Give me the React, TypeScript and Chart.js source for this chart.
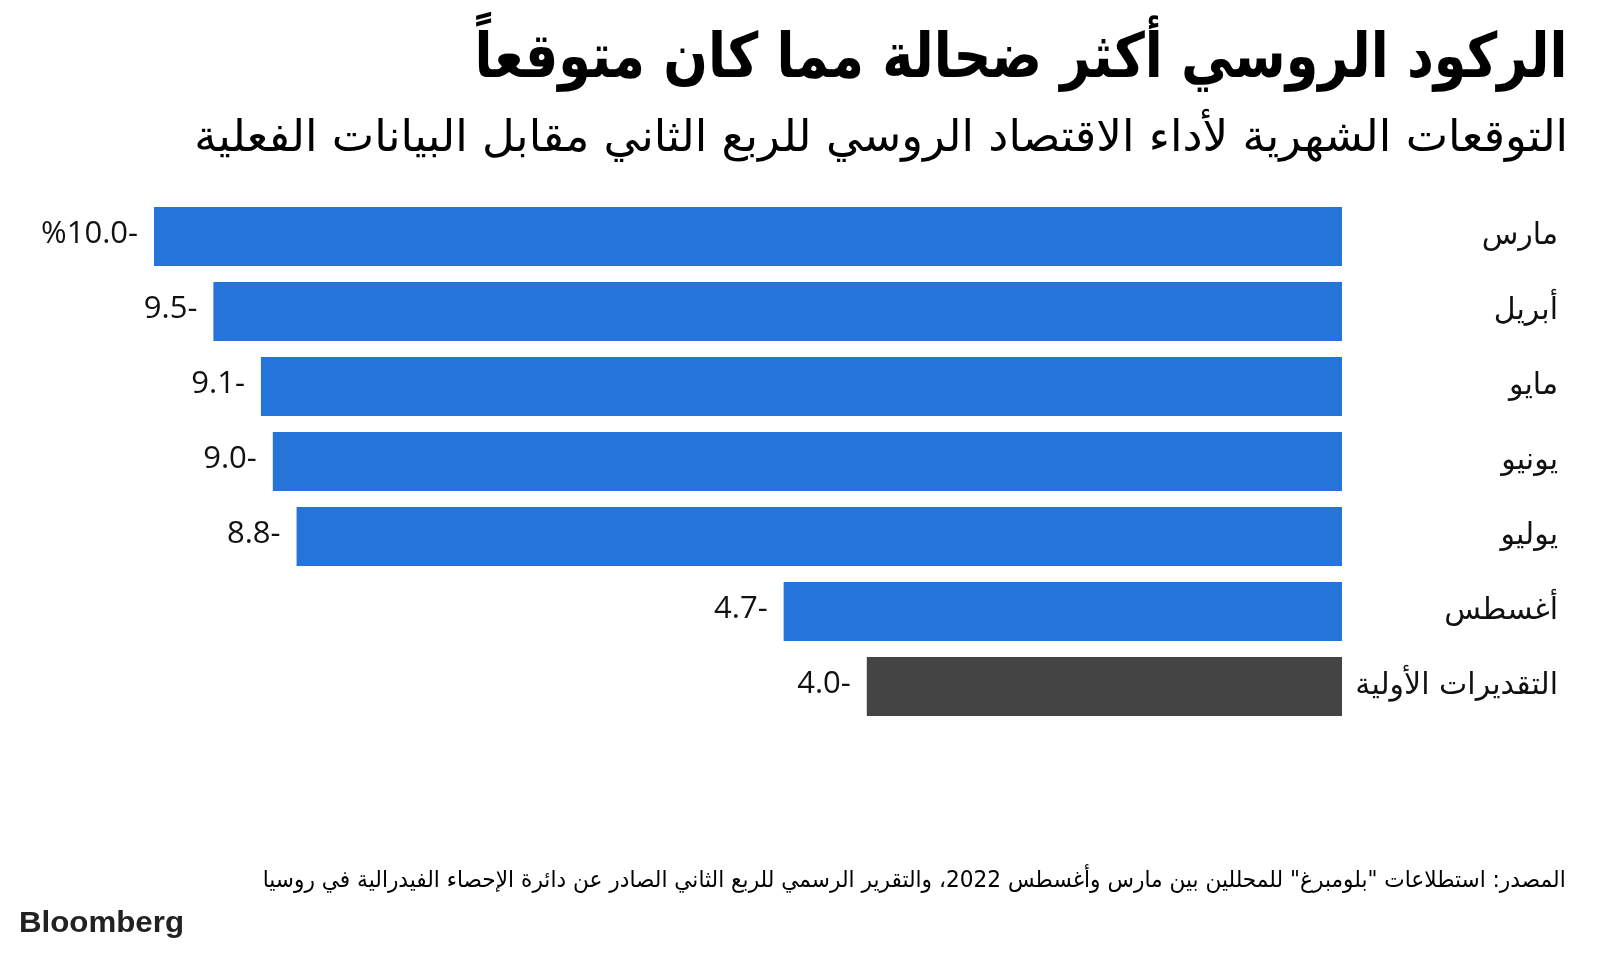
import React, { useEffect, useLayoutEffect, useRef } from "react";
import { Chart, registerables } from "chart.js";

Chart.register(...registerables);

// ---------- data ----------
const titleText = "الركود الروسي أكثر ضحالة مما كان متوقعاً";
const subtitleText = "التوقعات الشهرية لأداء الاقتصاد الروسي للربع الثاني مقابل البيانات الفعلية";
const sourceText =
  'المصدر: استطلاعات "بلومبرغ" للمحللين بين مارس وأغسطس 2022، والتقرير الرسمي للربع الثاني الصادر عن دائرة الإحصاء الفيدرالية في روسيا';
const brandText = "Bloomberg";

const categories = ["مارس", "أبريل", "مايو", "يونيو", "يوليو", "أغسطس", "التقديرات الأولية"];
const values = [-10.0, -9.5, -9.1, -9.0, -8.8, -4.7, -4.0];
const xMin = -10;
const xMax = 0;

// ---------- styles ----------
const BLUE = "#2474da";
const DARK = "#444444";
const ARABIC_FONT = "'DejaVu Sans', 'Noto Sans', sans-serif";
const NUM_FONT = "'Open Sans', 'DejaVu Sans', sans-serif";

function formatValue(v: number, i: number): string {
  // visual right-to-left rendering of e.g. "-10.0%"
  return (i === 0 ? "%" : "") + Math.abs(v).toFixed(1) + "-";
}

type FitProps = {
  text: string;
  font: string;
  target: number;
  top: number;
  right?: number;
  left?: number;
  color?: string;
  rtl?: boolean;
};

function FitText({ text, font, target, right, left, top, color = "#000", rtl = true }: FitProps) {
  const ref = useRef<HTMLSpanElement>(null);
  useLayoutEffect(() => {
    const fit = () => {
      const el = ref.current;
      if (!el) return;
      el.style.transform = "none";
      const w = el.getBoundingClientRect().width;
      if (w > 0) el.style.transform = `scaleX(${target / w})`;
    };
    fit();
    if ((document as any).fonts && (document as any).fonts.ready) {
      (document as any).fonts.ready.then(fit);
    }
  }, [text, target, font]);
  const pos: any = { position: "absolute", top, whiteSpace: "nowrap", direction: rtl ? "rtl" : "ltr" };
  if (right !== undefined) pos.right = right;
  if (left !== undefined) pos.left = left;
  return (
    <div style={pos}>
      <span
        ref={ref}
        style={{
          display: "inline-block",
          font,
          lineHeight: 1,
          color,
          transformOrigin: rtl ? "right center" : "left center",
        }}
      >
        {text}
      </span>
    </div>
  );
}

const labelsPlugin = {
  id: "barLabels",
  afterDatasetsDraw(chart: any) {
    const ctx = chart.ctx;
    const meta = chart.getDatasetMeta(0);
    const yScale = chart.scales.y;
    const xScale = chart.scales.x;
    ctx.save();
    // category labels on the right
    ctx.fillStyle = "#111";
    ctx.font = `30px ${ARABIC_FONT}`;
    ctx.textAlign = "right";
    ctx.textBaseline = "middle";
    ctx.direction = "rtl";
    categories.forEach((c, i) => {
      const y = yScale.getPixelForValue(i);
      ctx.fillText(c, 1558, y);
    });
    // value labels at the end of each bar
    ctx.direction = "ltr";
    ctx.font = `31px ${NUM_FONT}`;
    ctx.textAlign = "right";
    meta.data.forEach((bar: any, i: number) => {
      const xEnd = xScale.getPixelForValue(values[i]);
      ctx.fillText(formatValue(values[i], i), xEnd - 16, bar.y - 2);
    });
    ctx.restore();
  },
};

export default function App() {
  const canvasRef = useRef<HTMLCanvasElement>(null);

  useEffect(() => {
    const canvas = canvasRef.current;
    if (!canvas) return;
    const chart = new Chart(canvas, {
      type: "bar",
      data: {
        labels: categories,
        datasets: [
          {
            data: values,
            backgroundColor: (c: any) => (c.dataIndex === categories.length - 1 ? DARK : BLUE),
            borderWidth: 0,
            barPercentage: 0.787,
            categoryPercentage: 1,
          },
        ],
      },
      options: {
        indexAxis: "y",
        responsive: false,
        animation: false,
        maintainAspectRatio: false,
        layout: { padding: { left: 154, right: 258, top: 199, bottom: 229 } },
        plugins: {
          legend: { display: false },
          tooltip: { enabled: false },
          title: { display: false },
        },
        scales: {
          x: { type: "linear", min: xMin, max: xMax, display: false },
          y: { type: "category", display: false, offset: true },
        },
      },
      plugins: [labelsPlugin],
    });
    return () => chart.destroy();
  }, []);

  return (
    <div
      style={{
        position: "absolute",
        left: 0,
        top: 0,
        width: 1600,
        height: 953,
        background: "#ffffff",
        overflow: "hidden",
      }}
    >
      <canvas
        ref={canvasRef}
        width={1600}
        height={953}
        style={{ position: "absolute", left: 0, top: 0, width: 1600, height: 953 }}
      />
      <FitText text={titleText} font={`bold 62px ${ARABIC_FONT}`} target={1093} right={32} top={25} />
      <FitText text={subtitleText} font={`44px ${ARABIC_FONT}`} target={1374} right={32} top={114} />
      <FitText text={sourceText} font={`23px ${ARABIC_FONT}`} target={1303} right={34} top={868} />
      <FitText
        text={brandText}
        font="bold 30px 'Liberation Sans', Arial, sans-serif"
        target={165}
        left={19}
        top={907}
        color="#222"
        rtl={false}
      />
    </div>
  );
}
